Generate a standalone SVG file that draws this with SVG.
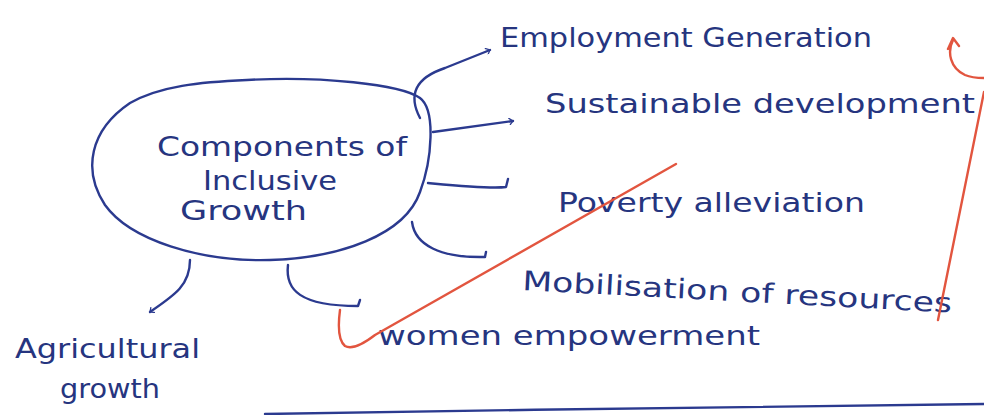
<svg xmlns="http://www.w3.org/2000/svg" width="984" height="415" viewBox="0 0 984 415">
<style>
.ink{fill:none;stroke:#2b3a8f;stroke-width:2.4;stroke-linecap:round;stroke-linejoin:round}
.red{fill:none;stroke:#e2553f;stroke-width:2.4;stroke-linecap:round;stroke-linejoin:round}
.t{font-family:"Comic Sans MS","DejaVu Sans","Liberation Sans",sans-serif;fill:#26357f;font-size:27px}
</style>
<defs>
<marker id="hook" viewBox="0 0 10 10" refX="8" refY="5" markerWidth="7" markerHeight="7" orient="auto" markerUnits="userSpaceOnUse">
<path d="M2,0 L8,5 L3,10" fill="none" stroke="#2b3a8f" stroke-width="1.8"/>
</marker>
</defs>
<rect width="984" height="415" fill="#ffffff"/>
<g id="center">
<path class="ink" d="M247,80 C320,76 400,84 420,98 C436,110 432,160 420,192 C405,235 340,258 270,260 C200,262 130,240 105,205 C82,170 90,130 130,103 C160,86 200,82 247,80 Z"/>
<text class="t" x="157" y="156" textLength="250" lengthAdjust="spacingAndGlyphs">Components of</text>
<text class="t" x="203" y="190" font-size="24" textLength="134" lengthAdjust="spacingAndGlyphs">Inclusive</text>
<text class="t" x="180" y="220" font-size="24" textLength="127" lengthAdjust="spacingAndGlyphs">Growth</text>
</g>
<g id="employment"><text class="t" x="500" y="47" textLength="372" lengthAdjust="spacingAndGlyphs">Employment Generation</text></g>
<g id="sustainable"><text class="t" x="545" y="113" font-size="30" textLength="430" lengthAdjust="spacingAndGlyphs">Sustainable development</text></g>
<g id="poverty"><text class="t" x="558" y="212" font-size="28" textLength="307" lengthAdjust="spacingAndGlyphs">Poverty alleviation</text></g>
<g id="mobilisation"><text class="t" x="522" y="290" font-size="28" textLength="430" lengthAdjust="spacingAndGlyphs" transform="rotate(3 522 290)">Mobilisation of resources</text></g>
<g id="women"><text class="t" x="378" y="345" font-size="26" textLength="382" lengthAdjust="spacingAndGlyphs">women empowerment</text></g>
<g id="agricultural">
<text class="t" x="15" y="358" font-size="26" textLength="185" lengthAdjust="spacingAndGlyphs">Agricultural</text>
<text class="t" x="60" y="398" font-size="26" textLength="100" lengthAdjust="spacingAndGlyphs">growth</text>
</g>
<g id="connectors">
<path class="ink" marker-end="url(#hook)" d="M420,118 C408,95 415,78 445,68 L490,50"/>
<path class="ink" marker-end="url(#hook)" d="M433,132 L513,121"/>
<path class="ink" d="M428,183 C460,186 490,189 506,187 L508,179"/>
<path class="ink" d="M412,222 C415,245 440,258 485,257 L486,252"/>
<path class="ink" d="M288,265 C285,290 300,306 358,306 L360,300"/>
<path class="ink" marker-end="url(#hook)" d="M190,260 C190,285 175,295 150,312"/>
</g>
<g id="marks">
<path class="red" d="M340,310 C338,325 338,340 345,346 C352,350 362,345 375,335 L676,164"/>
<path class="red" d="M948,49 L953,38 L959,46 M953,40 C947,52 950,68 965,75 C972,78 980,78 984,78"/>
<path class="red" d="M984,92 L938,320"/>
<path class="ink" stroke-width="2" d="M265,414 C500,410 800,406 984,404"/>
</g>
</svg>
